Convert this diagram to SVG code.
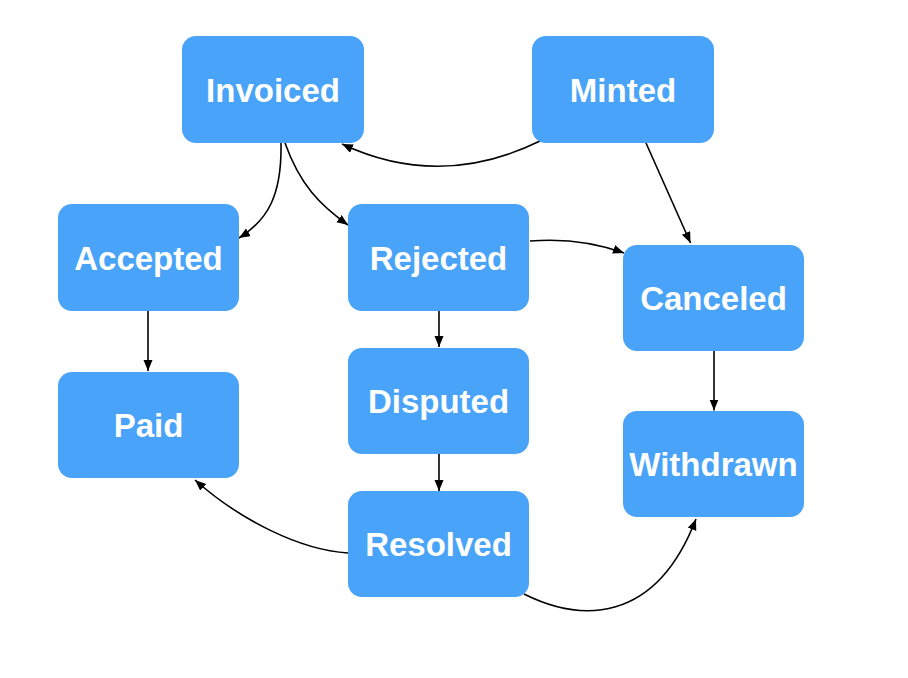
<svg xmlns="http://www.w3.org/2000/svg" width="908" height="678" viewBox="0 0 908 678">
<style>
.node rect{fill:#48a3f9;}
.node text{fill:#fff;font-family:"Liberation Sans",Arial,Helvetica,sans-serif;font-weight:bold;font-size:33px;text-anchor:middle;}
.edges path{fill:none;stroke:#000;stroke-width:1.6;marker-end:url(#arr);}
</style>
<defs>
<marker id="arr" markerUnits="userSpaceOnUse" markerWidth="12" markerHeight="10" refX="11" refY="4.5" orient="auto">
<path d="M0,0 L11,4.5 L0,9 z" fill="#000"/>
</marker>
</defs>
<rect width="908" height="678" fill="#fff"/>
<g class="edges">
<path d="M281,143 C282,195 268,220 239,238"/>
<path d="M285,143 C300,185 320,205 348,225"/>
<path d="M540,141 Q440,190 342,144"/>
<path d="M646,143 L690.5,243"/>
<path d="M530,241 Q580,237 624,253"/>
<path d="M148,311 L148,371"/>
<path d="M439,311 L439,347"/>
<path d="M439,454 L439,491"/>
<path d="M714,351 L714,410.5"/>
<path d="M348,553 C300,550 240,520 195,480"/>
<path d="M524,594 C580,622 655,625 696,519"/>
</g>
<g id="node-invoiced" class="node"><rect x="182" y="36" width="182" height="107" rx="14"/><text x="273" y="102">Invoiced</text></g>
<g id="node-minted" class="node"><rect x="532" y="36" width="182" height="107" rx="14"/><text x="623" y="102">Minted</text></g>
<g id="node-accepted" class="node"><rect x="58" y="204" width="181" height="107" rx="14"/><text x="148.5" y="270">Accepted</text></g>
<g id="node-rejected" class="node"><rect x="348" y="204" width="181" height="107" rx="14"/><text x="438.5" y="270">Rejected</text></g>
<g id="node-canceled" class="node"><rect x="623" y="245" width="181" height="106" rx="14"/><text x="713.5" y="310">Canceled</text></g>
<g id="node-paid" class="node"><rect x="58" y="372" width="181" height="106" rx="14"/><text x="148.5" y="437">Paid</text></g>
<g id="node-disputed" class="node"><rect x="348" y="348" width="181" height="106" rx="14"/><text x="438.5" y="413">Disputed</text></g>
<g id="node-withdrawn" class="node"><rect x="623" y="411" width="181" height="106" rx="14"/><text x="713.5" y="476">Withdrawn</text></g>
<g id="node-resolved" class="node"><rect x="348" y="491" width="181" height="106" rx="14"/><text x="438.5" y="556">Resolved</text></g>
</svg>
